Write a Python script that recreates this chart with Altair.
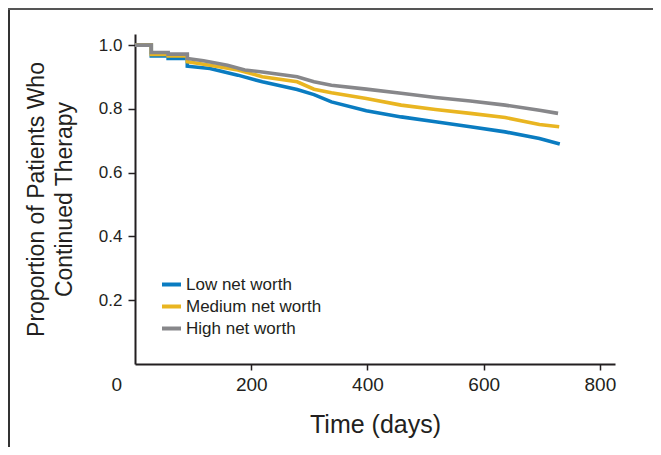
import altair as alt
import pandas as pd

# ---- data (Kaplan-Meier style curves) ----
series_names = ["Low net worth", "Medium net worth", "High net worth"]
series_colors = ["#0a7cc1", "#e9b521", "#87878a"]

time_low = [0, 28, 28, 57, 57, 90, 90, 129, 177, 219, 279, 308, 338, 398, 458, 517, 577, 637, 696, 731]
surv_low = [1.0, 1.0, 0.966, 0.966, 0.958, 0.958, 0.934, 0.927, 0.906, 0.885, 0.861, 0.845, 0.822, 0.794, 0.775, 0.760, 0.744, 0.728, 0.707, 0.690]

time_med = [0, 28, 28, 57, 57, 90, 90, 129, 177, 219, 279, 308, 338, 398, 458, 517, 577, 637, 696, 730]
surv_med = [1.0, 1.0, 0.971, 0.971, 0.966, 0.966, 0.948, 0.937, 0.922, 0.901, 0.885, 0.862, 0.851, 0.833, 0.812, 0.798, 0.786, 0.773, 0.751, 0.744]

time_high = [0, 28, 28, 57, 57, 90, 90, 118, 159, 189, 219, 279, 308, 338, 398, 458, 517, 577, 637, 696, 728]
surv_high = [1.0, 1.0, 0.977, 0.977, 0.972, 0.972, 0.958, 0.951, 0.937, 0.922, 0.916, 0.901, 0.885, 0.874, 0.862, 0.849, 0.836, 0.825, 0.812, 0.796, 0.786]

x_ticks = [0, 200, 400, 600, 800]
y_ticks = [0.2, 0.4, 0.6, 0.8, 1.0]

rows = []
for name, ts, vs in [(series_names[0], time_low, surv_low),
                     (series_names[1], time_med, surv_med),
                     (series_names[2], time_high, surv_high)]:
    for i, (t, v) in enumerate(zip(ts, vs)):
        rows.append({"series": name, "time": t, "surv": v, "idx": i})
df = pd.DataFrame(rows)

W, H = 480, 330
PAD = {"left": 127, "top": 26, "right": 38, "bottom": 83}

axis_color = "#231f20"
font = "Liberation Sans"

lines = alt.Chart(df).mark_line(strokeWidth=3.6, interpolate="linear").encode(
    x=alt.X("time:Q",
            scale=alt.Scale(domain=[0, 826], nice=False, zero=False),
            axis=alt.Axis(values=x_ticks, title="Time (days)", grid=False,
                          labelFontSize=19, labelFont=font, labelColor=axis_color,
                          labelOffset={"condition": {"test": "datum.value === 0", "value": -24}, "value": 0},
                          tickOpacity={"condition": {"test": "datum.value === 0", "value": 0}, "value": 1},
                          labelPadding=5, tickSize=6, tickWidth=1.5, tickColor=axis_color,
                          domainColor=axis_color, domainWidth=2,
                          titleFontSize=25, titleFont=font, titleFontWeight="normal",
                          titleColor=axis_color, titlePadding=18)),
    y=alt.Y("surv:Q",
            scale=alt.Scale(domain=[0, 1.035], nice=False, zero=False),
            axis=alt.Axis(values=y_ticks, format=".1f",
                          title=["Proportion of Patients Who", "Continued Therapy"],
                          grid=False, labelFontSize=17, labelFont=font, labelColor=axis_color,
                          labelPadding=6, tickSize=7, tickWidth=1.5, tickColor=axis_color,
                          domainColor=axis_color, domainWidth=2,
                          titleFontSize=23, titleFont=font, titleFontWeight="normal",
                          titleColor=axis_color, titleLineHeight=28,
                          titleAngle=-90, titleAlign="center", titleBaseline="middle",
                          titleX=-99, titleY=165)),
    color=alt.Color("series:N",
                    scale=alt.Scale(domain=series_names, range=series_colors),
                    legend=alt.Legend(title=None, orient="none", legendX=25, legendY=239,
                                      symbolType="stroke", symbolSize=361, symbolStrokeWidth=4,
                                      labelFontSize=17, labelFont=font, labelColor=axis_color,
                                      labelOffset=3, rowPadding=2, padding=0)),
    order=alt.Order("idx:Q"),
    detail="series:N",
)

frame_data = pd.DataFrame({"k": [0]})
left_border = alt.Chart(frame_data).mark_rule(color="#333333", strokeWidth=2).encode(
    x=alt.value(-PAD["left"] + 1), y=alt.value(-PAD["top"]), y2=alt.value(H + PAD["bottom"])
)
top_border = alt.Chart(frame_data).mark_rule(color="#555555", strokeWidth=2).encode(
    x=alt.value(-PAD["left"]), x2=alt.value(W + PAD["right"]), y=alt.value(-PAD["top"] + 1)
)

chart = alt.layer(lines, left_border, top_border).properties(
    width=W, height=H, padding=PAD, autosize=alt.AutoSizeParams(type="none"),
    background="white",
).configure_view(stroke=None)

chart.save("out.html", embed_options={"renderer": "svg", "actions": False})
